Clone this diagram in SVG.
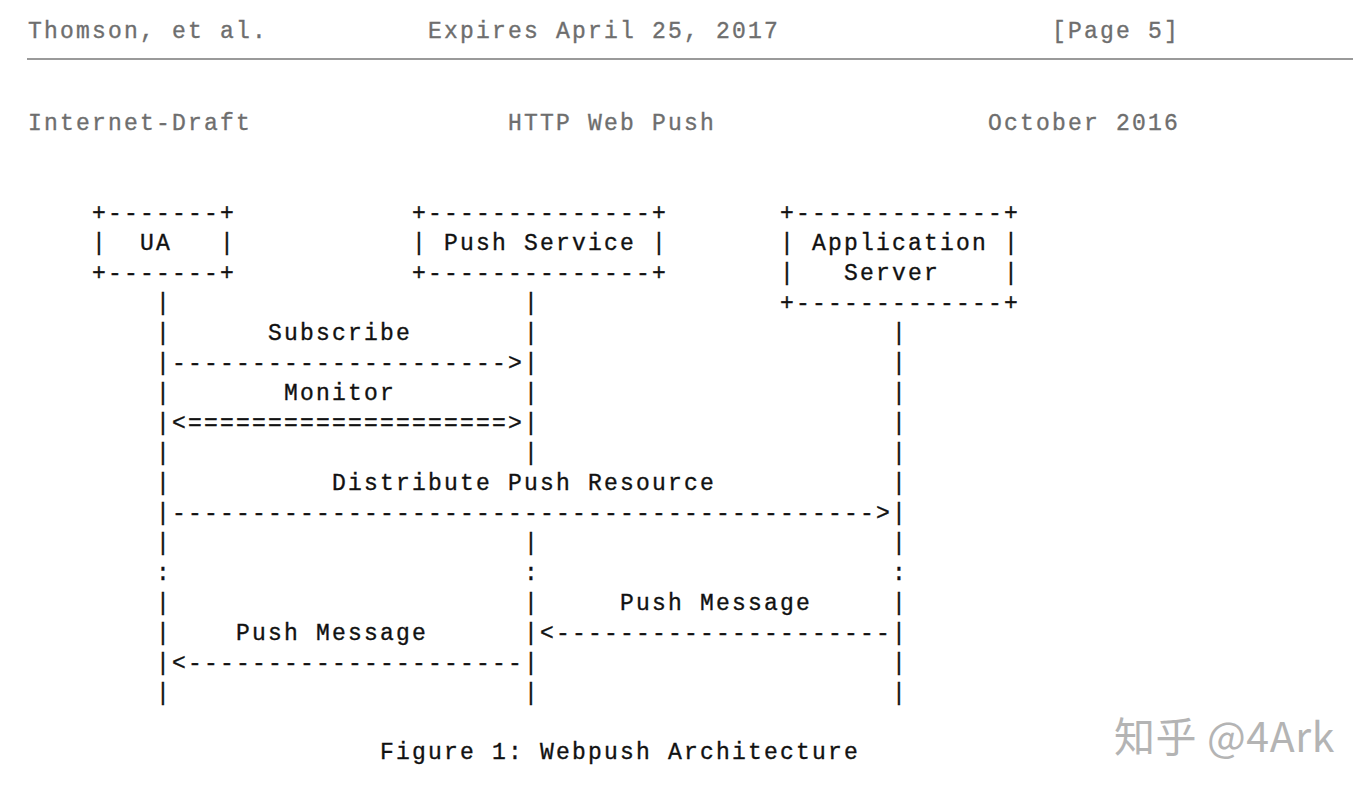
<svg xmlns="http://www.w3.org/2000/svg" width="1370" height="792" viewBox="0 0 1370 792">
<style>
text{font-family:"Liberation Mono","DejaVu Sans Mono",monospace;font-size:23px;letter-spacing:2.2px;white-space:pre;fill:#111;stroke:#111;stroke-width:0.35px}
.hdr{fill:#6e6e6e;stroke:#6e6e6e}
.wm{font-family:"Noto Sans CJK SC","Noto Sans",sans-serif;font-size:41px;letter-spacing:0.6px;fill:#b4b4b4;stroke:none}
</style>
<rect width="1370" height="792" fill="#fff"/>
<g id="page-header">
<text class="hdr" x="28" y="38">Thomson, et al.</text>
<text class="hdr" x="428" y="38">Expires April 25, 2017</text>
<text class="hdr" x="1052" y="38">[Page 5]</text>
<line x1="27" y1="59" x2="1353" y2="59" stroke="#9a9a9a" stroke-width="2"/>
<text class="hdr" x="28" y="130">Internet-Draft</text>
<text class="hdr" x="508" y="130">HTTP Web Push</text>
<text class="hdr" x="988" y="130">October 2016</text>
</g>
<g id="node-ua">
<text x="92" y="220">+-------+</text>
<text x="92" y="250">|  UA   |</text>
<text x="92" y="280">+-------+</text>
</g>
<g id="node-push-service">
<text x="412" y="220">+--------------+</text>
<text x="412" y="250">| Push Service |</text>
<text x="412" y="280">+--------------+</text>
</g>
<g id="node-app-server">
<text x="780" y="220">+-------------+</text>
<text x="780" y="250">| Application |</text>
<text x="780" y="280">|   Server    |</text>
<text x="780" y="310">+-------------+</text>
</g>
<g id="lifelines">
<text x="156" y="310">|</text><text x="156" y="340">|</text><text x="156" y="370">|</text><text x="156" y="400">|</text><text x="156" y="430">|</text><text x="156" y="460">|</text><text x="156" y="490">|</text><text x="156" y="520">|</text><text x="156" y="550">|</text><text x="156" y="580">:</text><text x="156" y="610">|</text><text x="156" y="640">|</text><text x="156" y="670">|</text><text x="156" y="700">|</text>
<text x="524" y="310">|</text><text x="524" y="340">|</text><text x="524" y="370">|</text><text x="524" y="400">|</text><text x="524" y="430">|</text><text x="524" y="460">|</text><text x="524" y="550">|</text><text x="524" y="580">:</text><text x="524" y="610">|</text><text x="524" y="640">|</text><text x="524" y="670">|</text><text x="524" y="700">|</text>
<text x="892" y="340">|</text><text x="892" y="370">|</text><text x="892" y="400">|</text><text x="892" y="430">|</text><text x="892" y="460">|</text><text x="892" y="490">|</text><text x="892" y="520">|</text><text x="892" y="550">|</text><text x="892" y="580">:</text><text x="892" y="610">|</text><text x="892" y="640">|</text><text x="892" y="670">|</text><text x="892" y="700">|</text>
</g>
<g id="connectors">
<text x="268" y="340">Subscribe</text>
<text x="172" y="370">---------------------&gt;</text>
<text x="284" y="400">Monitor</text>
<text x="172" y="430">&lt;====================&gt;</text>
<text x="332" y="490">Distribute Push Resource</text>
<text x="172" y="520">--------------------------------------------&gt;</text>
<text x="620" y="610">Push Message</text>
<text x="236" y="640">Push Message</text>
<text x="540" y="640">&lt;---------------------</text>
<text x="172" y="670">&lt;---------------------</text>
</g>
<g id="caption">
<text x="380" y="759">Figure 1: Webpush Architecture</text>
</g>
<g id="watermark">
<text class="wm" x="1114" y="752">知乎 @4Ark</text>
</g>
</svg>
